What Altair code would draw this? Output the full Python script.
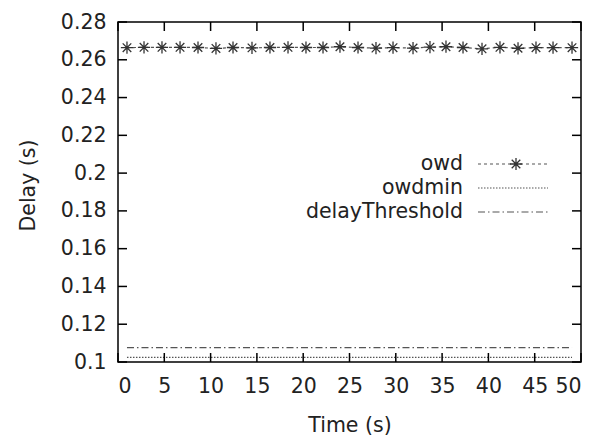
import altair as alt
import pandas as pd

# ---- data ----
time_s = [0.97, 2.81, 4.75, 6.70, 8.64, 10.58, 12.42, 14.47, 16.41, 18.36,
          20.30, 22.14, 23.97, 25.92, 27.86, 29.70, 31.86, 33.69, 35.42, 37.26,
          39.31, 41.25, 43.20, 45.14, 46.98, 49.03]
owd = [0.2664, 0.2666, 0.2666, 0.2666, 0.2665, 0.2660, 0.2665, 0.2663, 0.2665, 0.2666,
       0.2665, 0.2665, 0.2669, 0.2665, 0.2662, 0.2664, 0.2662, 0.2667, 0.2669, 0.2665,
       0.2658, 0.2666, 0.2661, 0.2664, 0.2664, 0.2664]
owdmin = [0.1024] * len(time_s)
delay_threshold = [0.1076] * len(time_s)

x_ticks = [0, 5, 10, 15, 20, 25, 30, 35, 40, 45, 50]
y_ticks = [0.1, 0.12, 0.14, 0.16, 0.18, 0.2, 0.22, 0.24, 0.26, 0.28]
legend_labels = ["owd", "owdmin", "delayThreshold"]

W, H = 463, 340
TOP = 14
FONT = "DejaVu Sans"
FS = 20.5
GRAY = "#555555"

df = pd.DataFrame({"t": time_s, "owd": owd, "owdmin": owdmin, "thr": delay_threshold})
xs = alt.Scale(domain=[0, 50], nice=False, zero=False)
ys = alt.Scale(domain=[0.1, 0.28], nice=False, zero=False)

STAR = "M-1,0L1,0M0,-1L0,1M-0.7,-0.7L0.7,0.7M-0.7,0.7L0.7,-0.7"

xax = alt.Axis(values=x_ticks, title="Time (s)", tickSize=0, labelPadding=14,
               labelOverlap=False, domain=False, grid=False, titleY=63,
               titleBaseline="middle", titleFontWeight="normal")
yax = alt.Axis(values=y_ticks, format="~g", title="Delay (s)", tickSize=0,
               labelPadding=12, labelOverlap=False, domain=False, grid=False,
               titleX=-90, titleY=H / 2 - 7, titleBaseline="middle",
               titleFontWeight="normal")


def X(f):
    return alt.X(f, scale=xs, axis=xax)


def Y(f):
    return alt.Y(f, scale=ys, axis=yax)


base = alt.Chart(df)
thr_line = base.mark_line(color=GRAY, strokeWidth=1.2, strokeDash=[7, 3, 1.5, 3]).encode(
    x=X("t:Q"), y=Y("thr:Q"))
min_line = base.mark_line(color=GRAY, strokeWidth=1.2, strokeDash=[1.5, 1.5]).encode(
    x=X("t:Q"), y=Y("owdmin:Q"))
owd_line = base.mark_line(color=GRAY, strokeWidth=1.2, strokeDash=[3, 3]).encode(
    x=X("t:Q"), y=Y("owd:Q"))
owd_pts = base.mark_point(shape=STAR, size=150, filled=False, color="#333333",
                          strokeWidth=1.3, opacity=1).encode(x=X("t:Q"), y=Y("owd:Q"))

# inward ticks on all four sides
xt = alt.Chart(pd.DataFrame({"v": x_ticks}))
yt = alt.Chart(pd.DataFrame({"v": y_ticks}))
tick_style = dict(color="black", strokeWidth=1.5)
tb = xt.mark_rule(**tick_style).encode(x=X("v:Q"), y=alt.value(H), y2=alt.value(H - 9))
tt = xt.mark_rule(**tick_style).encode(x=X("v:Q"), y=alt.value(0), y2=alt.value(9))
tl = yt.mark_rule(**tick_style).encode(y=Y("v:Q"), x=alt.value(0), x2=alt.value(9))
tr = yt.mark_rule(**tick_style).encode(y=Y("v:Q"), x=alt.value(W - 9), x2=alt.value(W))

# legend (gnuplot-style, inside the plot)
leg_rows = [142, 166, 190]
leg_df = pd.DataFrame({"label": legend_labels, "py": leg_rows})
leg_text = alt.Chart(leg_df).mark_text(align="right", baseline="middle", font=FONT,
                                       fontSize=FS, color="#222222").encode(
    text="label:N", x=alt.value(345), y=alt.value(0), yOffset=alt.YOffset("py:Q", scale=None))
one = alt.Chart(pd.DataFrame({"k": [0]}))
l1 = one.mark_rule(color=GRAY, strokeWidth=1.2, strokeDash=[3, 3]).encode(
    x=alt.value(360), x2=alt.value(430), y=alt.value(leg_rows[0]))
l1s = one.mark_point(shape=STAR, size=150, filled=False, color="#333333",
                     strokeWidth=1.3, opacity=1).encode(x=alt.value(398), y=alt.value(leg_rows[0]))
l2 = one.mark_rule(color=GRAY, strokeWidth=1.2, strokeDash=[1.5, 1.5]).encode(
    x=alt.value(360), x2=alt.value(430), y=alt.value(leg_rows[1]))
l3 = one.mark_rule(color=GRAY, strokeWidth=1.2, strokeDash=[7, 3, 1.5, 3]).encode(
    x=alt.value(360), x2=alt.value(430), y=alt.value(leg_rows[2]))

chart = alt.layer(thr_line, min_line, owd_line, owd_pts, tb, tt, tl, tr,
                  leg_text, l1, l1s, l2, l3).properties(
    width=W, height=H,
    autosize=alt.AutoSizeParams(type="none"),
    padding={"left": 110, "top": TOP, "right": 15, "bottom": 73},
    background="white",
).configure_view(stroke="black", strokeWidth=1.5).configure_axis(
    labelFont=FONT, labelFontSize=FS, labelColor="#222222",
    titleFont=FONT, titleFontSize=FS, titleColor="#222222",
    labelOverlap=False,
)

chart.save("out.html", embed_options={"renderer": "svg", "actions": False})
